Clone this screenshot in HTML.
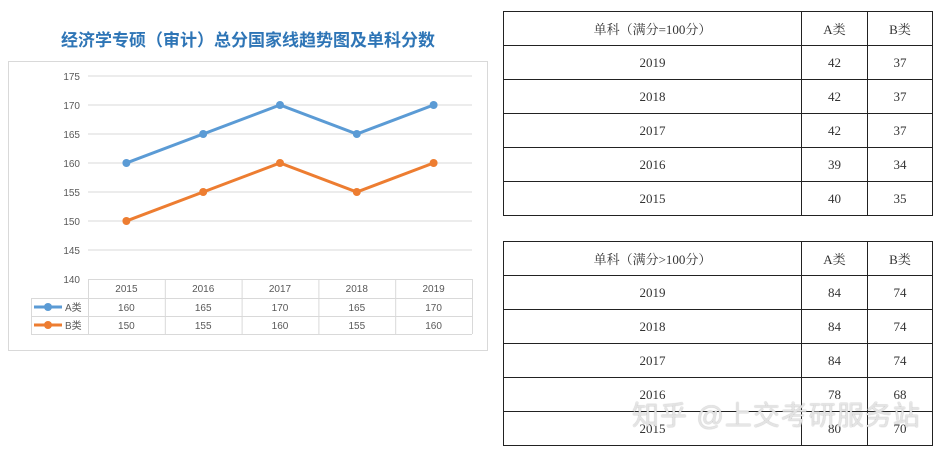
<!DOCTYPE html>
<html><head><meta charset="utf-8"><style>
body{margin:0;width:938px;height:452px;background:#fff;position:relative;overflow:hidden;font-family:"Liberation Serif","Noto Serif CJK SC",serif}
.title{position:absolute;left:0;width:496px;top:26px;text-align:center;color:#2e75b6;font:bold 17px "Liberation Sans","Noto Sans CJK SC",sans-serif}
table{position:absolute;border-collapse:collapse;left:503px;width:430px;font-size:13px;color:#333}
td{border:1px solid #222;text-align:center;height:33px;padding:0}
.wm{position:absolute;left:632px;top:394px;font:27px "Liberation Sans","Noto Sans CJK SC",sans-serif;color:rgba(255,255,255,.75);text-shadow:0 0 1px #888;letter-spacing:1px}
</style></head><body>
<div class="title">经济学专硕（审计）总分国家线趋势图及单科分数</div>
<svg width="938" height="452" style="position:absolute;left:0;top:0">
<rect x="8.5" y="61.5" width="479" height="289" fill="#fff" stroke="#d9d9d9"/>
<g id="g"></g>
</svg>
<table style="top:11px">
<tr><td style="width:297px">单科（满分=100分）</td><td style="width:65px">A类</td><td>B类</td></tr>
<tr><td>2019</td><td>42</td><td>37</td></tr>
<tr><td>2018</td><td>42</td><td>37</td></tr>
<tr><td>2017</td><td>42</td><td>37</td></tr>
<tr><td>2016</td><td>39</td><td>34</td></tr>
<tr><td>2015</td><td>40</td><td>35</td></tr>
</table>
<table style="top:241px">
<tr><td style="width:297px">单科（满分&gt;100分）</td><td style="width:65px">A类</td><td>B类</td></tr>
<tr><td>2019</td><td>84</td><td>74</td></tr>
<tr><td>2018</td><td>84</td><td>74</td></tr>
<tr><td>2017</td><td>84</td><td>74</td></tr>
<tr><td>2016</td><td>78</td><td>68</td></tr>
<tr><td>2015</td><td>80</td><td>70</td></tr>
</table>
<div class="wm">知乎 @上交考研服务站</div>
<script>
const categories=["2015","2016","2017","2018","2019"];
const seriesA=[160,165,170,165,170];
const seriesB=[150,155,160,155,160];
const yTicks=[140,145,150,155,160,165,170,175];
const seriesNames=["A类","B类"];
const colors=["#5b9bd5","#ed7d31"];
const NS="http://www.w3.org/2000/svg",g=document.getElementById('g');
const x0=88,x1=472,yTop=76,yBot=279,ymin=140,ymax=175;
const cw=(x1-x0)/categories.length;
const X=i=>x0+cw*(i+0.5);
const Y=v=>yBot-(v-ymin)/(ymax-ymin)*(yBot-yTop);
function el(t,a,txt){const e=document.createElementNS(NS,t);for(const k in a)e.setAttribute(k,a[k]);if(txt!==undefined)e.textContent=txt;g.appendChild(e);return e;}
const fs={"font-family":"Liberation Sans, Noto Sans CJK SC, sans-serif","font-size":"10","fill":"#595959"};
yTicks.forEach(v=>{
 if(v>ymin){const l=el('line',{x1:x0,x2:x1,y1:Y(v),y2:Y(v),stroke:'#d9d9d9'});
 
 }
 const t=el('text',Object.assign({x:80,y:Y(v)+4,"text-anchor":"end"},fs),v);
 
 
});
el('line',{x1:x0,x2:x1,y1:279.5,y2:279.5,stroke:'#d9d9d9'});
[298,316,334].forEach(y=>el('line',{x1:31,x2:x1,y1:y+.5,y2:y+.5,stroke:'#d9d9d9'}));
el('line',{x1:31.5,x2:31.5,y1:298,y2:334,stroke:'#d9d9d9'});
for(let i=0;i<=categories.length;i++)el('line',{x1:x0+cw*i+.5,x2:x0+cw*i+.5,y1:279,y2:334,stroke:'#d9d9d9'});
categories.forEach((c,i)=>{const t=el('text',Object.assign({x:X(i),y:292,"text-anchor":"middle"},fs),c);
 
 });
[seriesA,seriesB].forEach((s,k)=>{
 const ry=(k?316:298)+13;
 el('line',{x1:34,x2:62,y1:ry-4,y2:ry-4,stroke:colors[k],"stroke-width":3});
 el('circle',{cx:48,cy:ry-4,r:4,fill:colors[k]});
 el('text',Object.assign({x:65,y:ry},fs),seriesNames[k]);
 s.forEach((v,i)=>el('text',Object.assign({x:X(i),y:ry,"text-anchor":"middle"},fs),v));
 const p=el('polyline',{points:s.map((v,i)=>X(i)+','+Y(v)).join(' '),fill:'none',stroke:colors[k],"stroke-width":3});
 
 
 s.forEach((v,i)=>{const c=el('circle',{cx:X(i),cy:Y(v),r:4,fill:colors[k]});
  
  });
});
</script>
</body></html>
